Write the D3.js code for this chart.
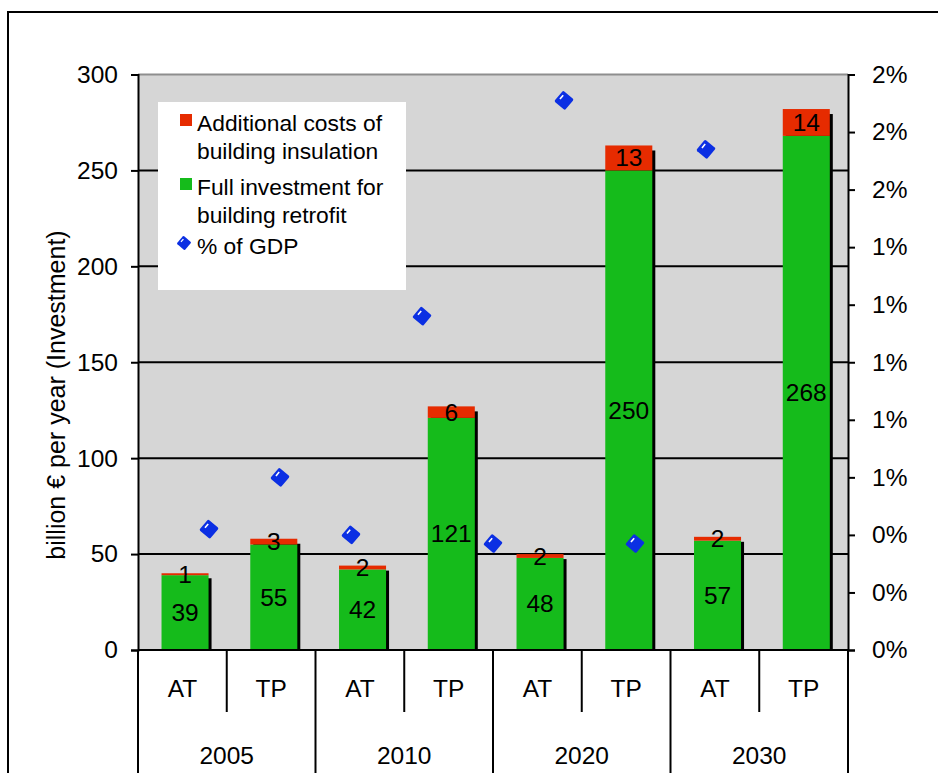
<!DOCTYPE html>
<html>
<head>
<meta charset="utf-8">
<script src="https://cdn.jsdelivr.net/npm/d3@7"></script>
<style>
  body { margin: 0; background: #fff; }
  svg { display: block; font-family: "Liberation Sans", Arial, Helvetica, sans-serif; }
</style>
</head>
<body>
<svg id="chart" width="938" height="773"></svg>
<script>
// data
const years = ["2005", "2010", "2020", "2030"]
const scenarios = ["AT", "TP"]
const fullInvestment = [39, 55, 42, 121, 48, 250, 57, 268]
const additionalCosts = [1, 3, 2, 6, 2, 13, 2, 14]
const gdpShare = [0.0042, 0.0060, 0.0040, 0.0116, 0.0037, 0.0191, 0.0037, 0.0174]
const leftTicks = [0, 50, 100, 150, 200, 250, 300]
const gridTicks = [50, 100, 150, 200, 250]
const rightTicks = [0, 0.002, 0.004, 0.006, 0.008, 0.01, 0.012, 0.014, 0.016, 0.018, 0.02]

const GREEN = "#15bb1b"
const RED = "#e62b00"
const BLUE = "#0b2fe3"
const FS = 24.5

const svg = d3.select("#chart")

const x0 = 138, x1 = 848
const yTop = 74.5, yBot = 650

const y = d3.scaleLinear().domain([0, 300]).range([yBot, yTop])
const y2 = d3.scaleLinear().domain([0, 0.02]).range([yBot, yTop])
const xYear = d3.scaleBand().domain(years).range([x0, x1])
const xScen = d3.scaleBand().domain(scenarios).range([0, xYear.bandwidth()])
// the % series sits on its own category axis (10 slots)
const xGdp = d3.scaleLinear().domain([0, 10]).range([x0, x1])

const rows = years.flatMap((yr, i) => scenarios.map((s, j) => {
    const k = i * 2 + j
    return { year: yr, scen: s, full: fullInvestment[k], add: additionalCosts[k], gdp: gdpShare[k], k: k }
}))

const bw = xScen.bandwidth()
const barW = bw * 0.53
const barX = d => xYear(d.year) + xScen(d.scen) + bw * 0.265
const barCx = d => barX(d) + barW / 2

const defs = svg.append("defs")
defs.append("filter").attr("id", "soft")
    .attr("x", "-20%").attr("y", "-5%").attr("width", "140%").attr("height", "110%")
    .append("feGaussianBlur").attr("stdDeviation", 0.7)

// outer frame
svg.append("rect")
    .attr("x", 8).attr("y", 12)
    .attr("width", 980).attr("height", 820)
    .attr("fill", "none").attr("stroke", "#000").attr("stroke-width", 2)

// plot area
svg.append("rect")
    .attr("x", x0).attr("y", yTop)
    .attr("width", x1 - x0).attr("height", yBot - yTop)
    .attr("fill", "#d6d6d6")
svg.append("line")
    .attr("x1", x0).attr("x2", x1).attr("y1", yTop).attr("y2", yTop)
    .attr("stroke", "#8e8e8e").attr("stroke-width", 2)

svg.append("g")
    .selectAll("line")
    .data(gridTicks)
    .join("line")
        .attr("x1", x0).attr("x2", x1)
        .attr("y1", d => y(d)).attr("y2", d => y(d))
        .attr("stroke", "#000").attr("stroke-width", 2)

// bars
const bars = svg.append("g")
    .selectAll("g")
    .data(rows)
    .join("g")

bars.append("rect")
    .attr("x", d => barX(d) + 3)
    .attr("y", d => y(d.full + d.add) + 5)
    .attr("width", barW)
    .attr("height", d => yBot - y(d.full + d.add) - 5)
    .attr("fill", "#000")
    .attr("filter", "url(#soft)")

bars.append("rect")
    .attr("x", barX)
    .attr("y", d => y(d.full))
    .attr("width", barW)
    .attr("height", d => yBot - y(d.full))
    .attr("fill", GREEN)

bars.append("rect")
    .attr("x", barX)
    .attr("y", d => y(d.full + d.add))
    .attr("width", barW)
    .attr("height", d => y(d.full) - y(d.full + d.add))
    .attr("fill", RED)

bars.append("text")
    .attr("x", barCx)
    .attr("y", d => (y(d.full) + yBot) / 2)
    .attr("text-anchor", "middle")
    .attr("dominant-baseline", "central")
    .attr("font-size", FS)
    .text(d => d.full)

bars.append("text")
    .attr("x", barCx)
    .attr("y", d => (y(d.full) + y(d.full + d.add)) / 2)
    .attr("text-anchor", "middle")
    .attr("dominant-baseline", "central")
    .attr("font-size", FS)
    .text(d => d.add)

// % of GDP markers
function diamond(g) {
    g.append("rect")
        .attr("x", -7).attr("y", -7)
        .attr("width", 14).attr("height", 14)
        .attr("rx", 1.5)
        .attr("fill", BLUE)
        .attr("transform", "rotate(40)")
    g.append("line")
        .attr("x1", -4).attr("y1", -3.5)
        .attr("x2", -4).attr("y2", 1.5)
        .attr("stroke", "#fff").attr("stroke-width", 1.6)
        .attr("transform", "rotate(40)")
}

svg.append("g")
    .selectAll("g")
    .data(rows)
    .join("g")
        .attr("transform", d => `translate(${xGdp(d.k + 1)},${y2(d.gdp)})`)
        .each(function () { diamond(d3.select(this)) })

// axes
const leftAxis = svg.append("g")
    .attr("transform", `translate(${x0},0)`)
    .call(d3.axisLeft(y).tickValues(leftTicks).tickSize(7).tickPadding(13))
const rightAxis = svg.append("g")
    .attr("transform", `translate(${x1},0)`)
    .call(d3.axisRight(y2).tickValues(rightTicks).tickFormat(d3.format(".0%")).tickSize(7).tickPadding(17))

for (const ax of [leftAxis, rightAxis]) {
    ax.selectAll("path, line").attr("stroke", "#000").attr("stroke-width", 2)
    ax.selectAll("text")
        .attr("fill", "#000")
        .attr("font-size", FS)
        .attr("font-family", "Liberation Sans, Arial, sans-serif")
}

// category boxes under the plot
const cat = svg.append("g")
cat.append("line")
    .attr("x1", x0).attr("x2", x1).attr("y1", yBot).attr("y2", yBot)
    .attr("stroke", "#000").attr("stroke-width", 2)
cat.selectAll(".outer")
    .data(years.map(yr => xYear(yr)).concat([x1]))
    .join("line")
        .attr("class", "outer")
        .attr("x1", d => d).attr("x2", d => d)
        .attr("y1", yBot).attr("y2", 790)
        .attr("stroke", "#000").attr("stroke-width", 2)
cat.selectAll(".inner")
    .data(years)
    .join("line")
        .attr("class", "inner")
        .attr("x1", d => xYear(d) + xScen("TP")).attr("x2", d => xYear(d) + xScen("TP"))
        .attr("y1", yBot).attr("y2", 712)
        .attr("stroke", "#000").attr("stroke-width", 2)
cat.selectAll(".scen")
    .data(rows)
    .join("text")
        .attr("class", "scen")
        .attr("x", d => xYear(d.year) + xScen(d.scen) + bw / 2)
        .attr("y", 688)
        .attr("text-anchor", "middle")
        .attr("dominant-baseline", "central")
        .attr("font-size", FS)
        .text(d => d.scen)
cat.selectAll(".year")
    .data(years)
    .join("text")
        .attr("class", "year")
        .attr("x", d => xYear(d) + xYear.bandwidth() / 2)
        .attr("y", 755)
        .attr("text-anchor", "middle")
        .attr("dominant-baseline", "central")
        .attr("font-size", FS)
        .text(d => d)

// y title
svg.append("text")
    .attr("transform", "translate(65,395) rotate(-90)")
    .attr("text-anchor", "middle")
    .attr("font-size", 25)
    .text("billion € per year (Investment)")

// legend
const legend = svg.append("g")
legend.append("rect")
    .attr("x", 158).attr("y", 102)
    .attr("width", 248).attr("height", 188)
    .attr("fill", "#fff")

const legendItems = [
    { color: RED, lines: ["Additional costs of", "building insulation"], y: 114 },
    { color: GREEN, lines: ["Full investment for", "building retrofit"], y: 178 }
]
legendItems.forEach(it => {
    legend.append("rect")
        .attr("x", 180).attr("y", it.y)
        .attr("width", 12).attr("height", 12)
        .attr("fill", it.color)
    it.lines.forEach((t, i) => {
        legend.append("text")
            .attr("x", 197).attr("y", it.y + 17 + i * 28)
            .attr("font-size", 22.8)
            .text(t)
    })
})
diamond(legend.append("g").attr("transform", "translate(184,243) scale(0.75)"))
legend.append("text")
    .attr("x", 197).attr("y", 254)
    .attr("font-size", 22.8)
    .text("% of GDP")
</script>
</body>
</html>
